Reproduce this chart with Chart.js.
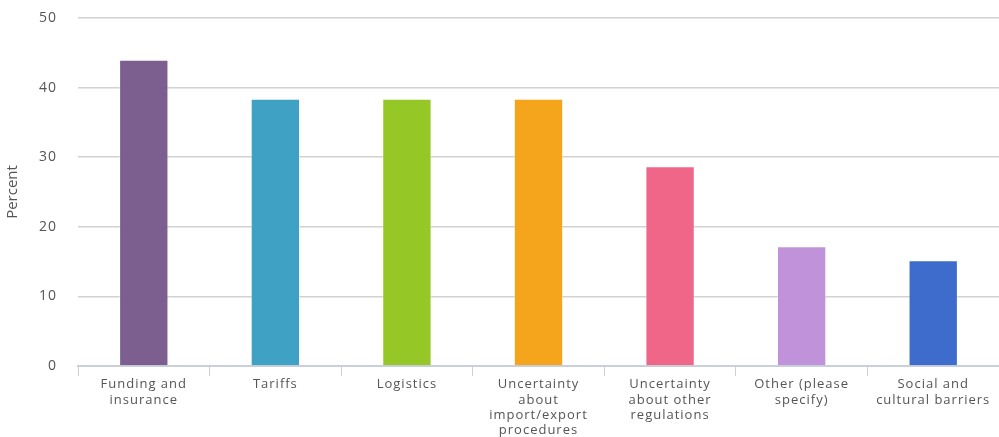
<!DOCTYPE html>
<html>
<head>
<meta charset="utf-8">
<script src="https://cdn.jsdelivr.net/npm/chart.js@4"></script>
<style>
html,body{margin:0;padding:0;background:#fff;}
#wrap{width:999px;height:437px;position:relative;}
</style>
</head>
<body>
<div id="wrap"><canvas id="c" width="999" height="437"></canvas></div>
<script>
const categories = [
  ["Funding and", "insurance"],
  "Tariffs",
  "Logistics",
  ["Uncertainty", "about", "import/export", "procedures"],
  ["Uncertainty", "about other", "regulations"],
  ["Other (please", "specify)"],
  ["Social and", "cultural barriers"]
];
const values = [44.0, 38.4, 38.4, 38.4, 28.7, 17.2, 15.2];
const barColors = ["#7C5F8E", "#3FA2C4", "#95C826", "#F5A51B", "#F06688", "#C092DA", "#3D6CCC"];
const yTicks = [0, 10, 20, 30, 40, 50];

const spacingPlugin = {
  id: 'spacing',
  beforeLayout(chart) { chart.ctx.letterSpacing = '1px'; },
  beforeDraw(chart) { chart.ctx.letterSpacing = '0px'; },
  afterDatasetsDraw(chart) { chart.ctx.letterSpacing = '1px'; },
  afterDraw(chart) { chart.ctx.letterSpacing = '0px'; }
};

new Chart(document.getElementById('c'), {
  type: 'bar',
  plugins: [spacingPlugin],
  data: {
    labels: categories,
    datasets: [{
      data: values,
      backgroundColor: barColors,
      borderColor: "rgba(255,255,255,0.35)",
      borderWidth: 1,
      categoryPercentage: 1.0,
      barPercentage: 0.375
    }]
  },
  options: {
    responsive: false,
    animation: false,
    layout: { padding: { top: 18, right: 0, left: 0, bottom: 0 } },
    plugins: { legend: { display: false }, tooltip: { enabled: false } },
    scales: {
      x: {
        afterFit: (ax) => { ax.height = 71; },
        grid: {
          offset: true,
          drawOnChartArea: false,
          drawTicks: true,
          tickLength: 10,
          color: "#C9CFDD"
        },
        border: { display: true, color: "#C9CFDD", width: 2 },
        ticks: {
          z: 1,
          color: "#555",
          font: { family: "Open Sans", size: 13, lineHeight: 1.18 },
          maxRotation: 0,
          autoSkip: false,
          padding: 1
        }
      },
      y: {
        min: 0,
        max: 50,
        afterFit: (ax) => { ax.width = 78; },
        afterBuildTicks: (ax) => { ax.ticks = yTicks.map(v => ({ value: v })); },
        grid: { color: "#D2D2D2", lineWidth: 1.5, drawTicks: true, tickLength: 21, tickColor: "rgba(0,0,0,0)" },
        border: { display: false },
        ticks: {
          z: 1,
          color: "#555",
          font: { family: "Open Sans", size: 14 },
          padding: 0
        },
        title: {
          display: true,
          text: "Percent",
          color: "#555",
          font: { family: "Open Sans", size: 15, lineHeight: 1.2 },
          padding: { top: 4, bottom: 0 }
        }
      }
    }
  }
});
</script>
</body>
</html>
